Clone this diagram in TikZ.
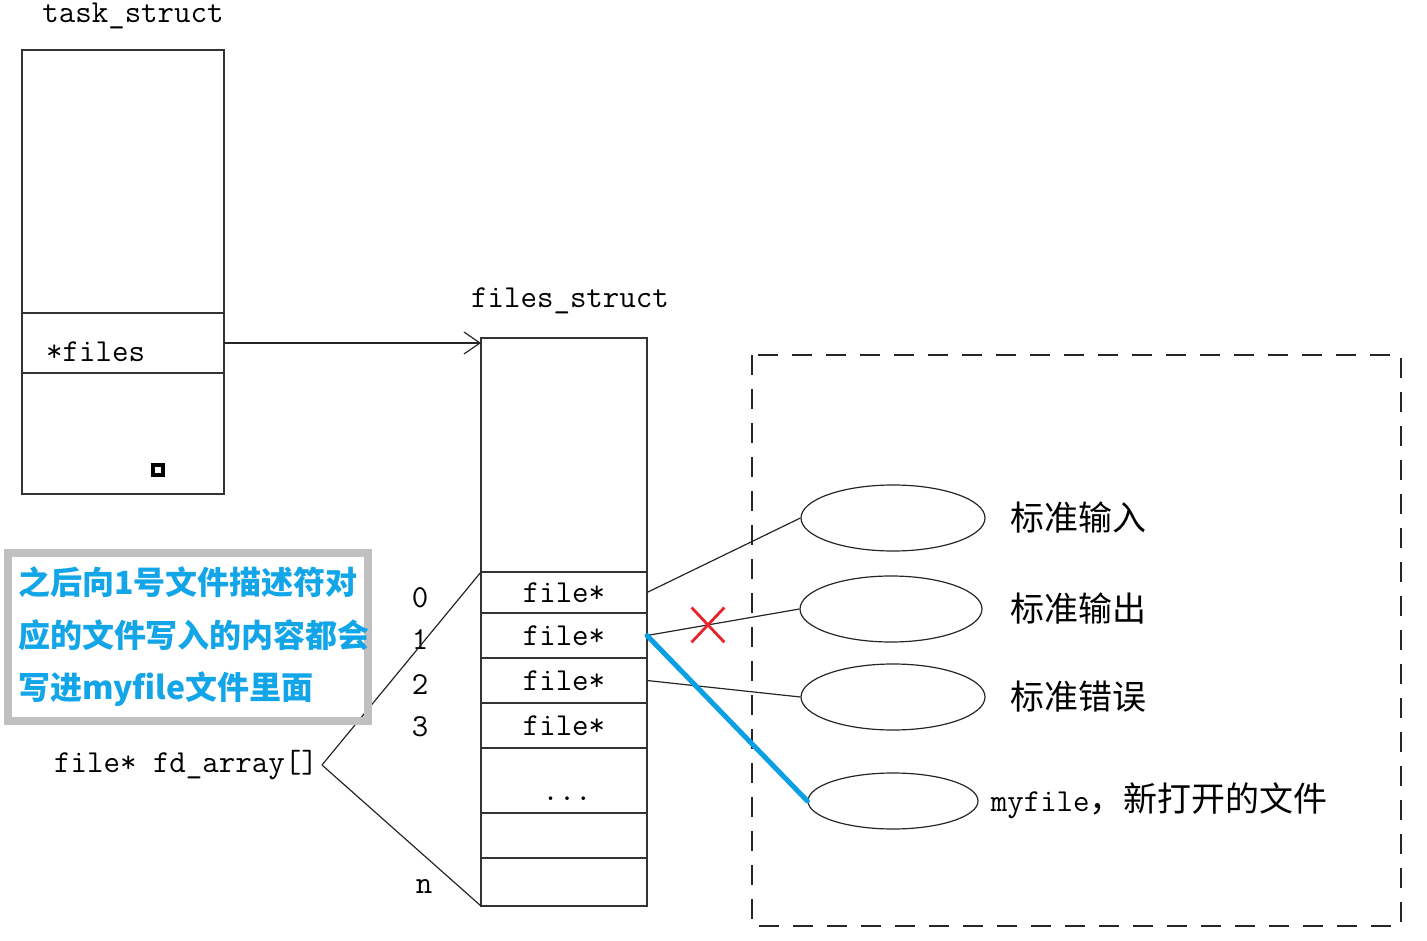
\documentclass[tikz,border=0pt]{standalone}
\usepackage{fontspec}
\usepackage{tikz}
\usetikzlibrary{arrows.meta,positioning,shapes.geometric,shapes.misc,calc}
\newfontfamily\cjkfont{Noto Sans CJK SC}
\definecolor{noteblue}{HTML}{12A5E8}
\definecolor{notegray}{HTML}{C0C0C0}
\definecolor{cutred}{HTML}{E8232B}
\definecolor{linkblue}{HTML}{0AA0E3}
\newcommand{\monosize}{\ttfamily\fontsize{32}{34}\selectfont}
\tikzset{
  fd/cell/.style={draw=black!80, line width=1.8pt, minimum width=166pt, inner sep=0pt, outer sep=0pt,
    anchor=north west, font=\monosize},
  fd/tcell/.style={fd/cell, minimum width=202pt},
  fd/mono/.style={font=\monosize, inner sep=0pt},
  fd/cjk/.style={font=\cjkfont\fontsize{34}{36}\selectfont, inner sep=0pt, anchor=west},
  fd/file/.style={draw=black!85, ellipse, line width=1.2pt, inner sep=0pt, minimum width=184pt, minimum height=66pt},
  fd/line/.style={draw=black!85, line width=1.2pt},
  fd/arr/.style={fd/line, -{Straight Barb[length=16pt,width=22pt,line width=1.2pt]}},
  fd/link/.style={draw=linkblue, line width=5pt, line cap=round},
  fd/cut/.style={draw=cutred, cross out, line width=2.8pt, minimum width=30pt, minimum height=32pt, inner sep=0pt},
  fd/frame/.style={draw=black!85, line width=1.6pt, dash pattern=on 20pt off 14pt},
  fd/note/.style={draw=notegray, line width=8pt, minimum width=360pt, minimum height=168pt, inner xsep=10pt,
    text width=340pt, align=left, text=noteblue, font=\cjkfont\bfseries\fontsize{32}{52.5}\selectfont}
}

\begin{document}
\begin{tikzpicture}[x=1pt, y=-1pt]
\useasboundingbox (0,0) rectangle (1427,941);

\node (tslbl) [fd/mono] at (133,16) {task\_struct};
\node (ttop) [fd/tcell, minimum height=263pt] at (22,50) {};
\node (tfiles) [fd/tcell, minimum height=60pt, below=0pt of ttop] {};
\node (tbot) [fd/tcell, minimum height=121pt, below=0pt of tfiles] {};
\node (filesptr) [fd/mono, anchor=west] at (46,352) {*files};
\node (mark) [draw=black, line width=4pt, minimum size=10pt, inner sep=0pt] at (158,470) {};

\node (fslbl) [fd/mono] at (570,301) {files\_struct};
\node (fstop) [fd/cell, minimum height=234pt] at (481,338) {};
\node (fs0) [fd/cell, minimum height=41pt, below=0pt of fstop] {file*};
\node (fs1) [fd/cell, minimum height=45pt, below=0pt of fs0] {file*};
\node (fs2) [fd/cell, minimum height=45pt, below=0pt of fs1] {file*};
\node (fs3) [fd/cell, minimum height=45pt, below=0pt of fs2] {file*};
\node (fs4) [fd/cell, minimum height=65pt, below=0pt of fs3] {};
\node (fs5) [fd/cell, minimum height=45pt, below=0pt of fs4] {};
\node (fs6) [fd/cell, minimum height=48pt, below=0pt of fs5] {};
\node (dots) [fd/mono, anchor=base] at (567,800) {...};

\foreach \i/\ypos in {0/598,1/640,2/685,3/727}
  \node (idx\i) [fd/mono] at (420,\ypos) {\i};
\node (idxn) [fd/mono] at (424,887) {n};

\node (fdarr) [fd/mono, anchor=east] at (318,765) {file* fd\_array[]};
\coordinate (fdtip) at ([xshift=4pt]fdarr.east);
\draw[fd/line] (fdtip) -- (fs0.north west);
\draw[fd/line] (fdtip) -- (fs6.south west);

\draw[fd/arr] (tfiles.east) -- (tfiles.east -| fstop.west);

\draw[fd/frame] (752,355) rectangle (1401,926);

\node (stdin) [fd/file] at (893,518) {};
\node (stdout) [fd/file, minimum width=182pt] at (891,609) {};
\node (stderr) [fd/file] at (893,697) {};
\node (myfile) [fd/file, minimum width=170pt, minimum height=56pt] at (893,801) {};
\node (stdinlbl) [fd/cjk, right=25pt of stdin] {标准输入};
\node (stdoutlbl) [fd/cjk, right=28pt of stdout] {标准输出};
\node (stderrlbl) [fd/cjk, right=25pt of stderr] {标准错误};
\node (myfilelbl) [fd/cjk, right=12pt of myfile] {{\monosize myfile}，新打开的文件};

\draw[fd/line] (fs0.east) -- (stdin.west);
\draw[fd/line] (fs1.east) -- (stdout.west);
\draw[fd/line] (fs2.east) -- (stderr.west);
\draw[fd/link] (fs1.east) -- (myfile.west);
\node (cut) [fd/cut] at ($(fs1.east)!0.4!(stdout.west)$) {};

\node (note) [fd/note] at (188,637) {之后向1号文件描述符对\\应的文件写入的内容都会\\写进myfile文件里面};
\end{tikzpicture}
\end{document}
